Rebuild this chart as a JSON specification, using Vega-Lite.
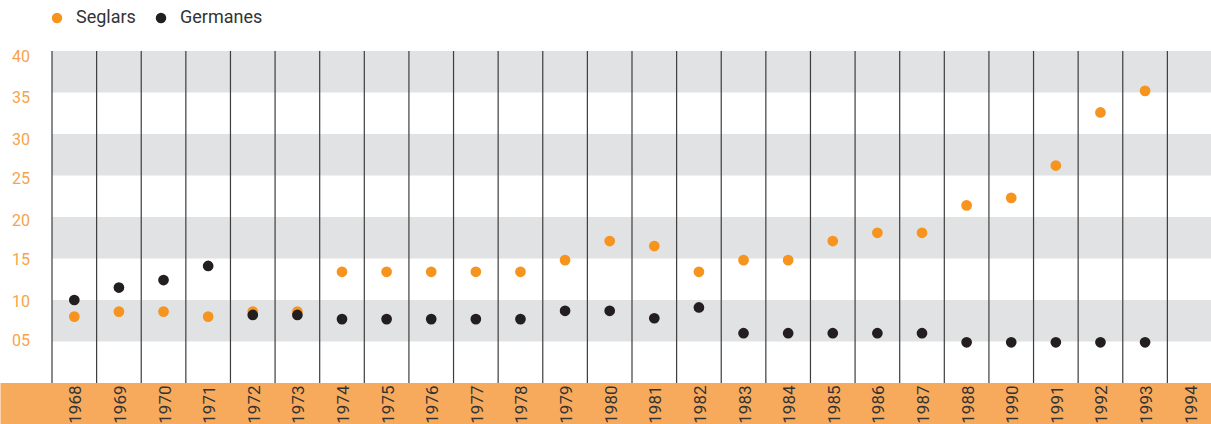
{
  "$schema": "https://vega.github.io/schema/vega-lite/v6.json",
  "width": 1160,
  "height": 373,
  "padding": {"left": 52, "top": 51, "right": 0, "bottom": 0},
  "autosize": {"type": "none"},
  "background": "white",
  "config": {"view": {"stroke": null}},
  "datasets": {
    "points": [
      {"year": "1968", "serie": "Seglars", "value": 8.0},
      {"year": "1969", "serie": "Seglars", "value": 8.6},
      {"year": "1970", "serie": "Seglars", "value": 8.6},
      {"year": "1971", "serie": "Seglars", "value": 8.0},
      {"year": "1972", "serie": "Seglars", "value": 8.6},
      {"year": "1973", "serie": "Seglars", "value": 8.6},
      {"year": "1974", "serie": "Seglars", "value": 13.4},
      {"year": "1975", "serie": "Seglars", "value": 13.4},
      {"year": "1976", "serie": "Seglars", "value": 13.4},
      {"year": "1977", "serie": "Seglars", "value": 13.4},
      {"year": "1978", "serie": "Seglars", "value": 13.4},
      {"year": "1979", "serie": "Seglars", "value": 14.8},
      {"year": "1980", "serie": "Seglars", "value": 17.1},
      {"year": "1981", "serie": "Seglars", "value": 16.5},
      {"year": "1982", "serie": "Seglars", "value": 13.4},
      {"year": "1983", "serie": "Seglars", "value": 14.8},
      {"year": "1984", "serie": "Seglars", "value": 14.8},
      {"year": "1985", "serie": "Seglars", "value": 17.1},
      {"year": "1986", "serie": "Seglars", "value": 18.1},
      {"year": "1987", "serie": "Seglars", "value": 18.1},
      {"year": "1988", "serie": "Seglars", "value": 21.4},
      {"year": "1990", "serie": "Seglars", "value": 22.3},
      {"year": "1991", "serie": "Seglars", "value": 26.2},
      {"year": "1992", "serie": "Seglars", "value": 32.6},
      {"year": "1993", "serie": "Seglars", "value": 35.2},
      {"year": "1968", "serie": "Germanes", "value": 10.0},
      {"year": "1969", "serie": "Germanes", "value": 11.5},
      {"year": "1970", "serie": "Germanes", "value": 12.4},
      {"year": "1971", "serie": "Germanes", "value": 14.1},
      {"year": "1972", "serie": "Germanes", "value": 8.2},
      {"year": "1973", "serie": "Germanes", "value": 8.2},
      {"year": "1974", "serie": "Germanes", "value": 7.7},
      {"year": "1975", "serie": "Germanes", "value": 7.7},
      {"year": "1976", "serie": "Germanes", "value": 7.7},
      {"year": "1977", "serie": "Germanes", "value": 7.7},
      {"year": "1978", "serie": "Germanes", "value": 7.7},
      {"year": "1979", "serie": "Germanes", "value": 8.7},
      {"year": "1980", "serie": "Germanes", "value": 8.7},
      {"year": "1981", "serie": "Germanes", "value": 7.8},
      {"year": "1982", "serie": "Germanes", "value": 9.1},
      {"year": "1983", "serie": "Germanes", "value": 6.0},
      {"year": "1984", "serie": "Germanes", "value": 6.0},
      {"year": "1985", "serie": "Germanes", "value": 6.0},
      {"year": "1986", "serie": "Germanes", "value": 6.0},
      {"year": "1987", "serie": "Germanes", "value": 6.0},
      {"year": "1988", "serie": "Germanes", "value": 4.9},
      {"year": "1990", "serie": "Germanes", "value": 4.9},
      {"year": "1991", "serie": "Germanes", "value": 4.9},
      {"year": "1992", "serie": "Germanes", "value": 4.9},
      {"year": "1993", "serie": "Germanes", "value": 4.9}
    ],
    "years": [
      {"year": "1968"}, {"year": "1969"}, {"year": "1970"}, {"year": "1971"},
      {"year": "1972"}, {"year": "1973"}, {"year": "1974"}, {"year": "1975"},
      {"year": "1976"}, {"year": "1977"}, {"year": "1978"}, {"year": "1979"},
      {"year": "1980"}, {"year": "1981"}, {"year": "1982"}, {"year": "1983"},
      {"year": "1984"}, {"year": "1985"}, {"year": "1986"}, {"year": "1987"},
      {"year": "1988"}, {"year": "1990"}, {"year": "1991"}, {"year": "1992"},
      {"year": "1993"}, {"year": "1994"}
    ],
    "bands": [
      {"lo": 35, "hi": 40},
      {"lo": 25, "hi": 30},
      {"lo": 15, "hi": 20},
      {"lo": 5, "hi": 10}
    ],
    "strip": [{"name": "axis"}]
  },
  "layer": [
    {
      "data": {"name": "bands"},
      "mark": {"type": "rect", "fill": "#E1E2E4"},
      "encoding": {
        "y": {
          "field": "lo",
          "type": "quantitative",
          "scale": {"domain": [-4.94, 40], "nice": false, "zero": false},
          "axis": {
            "orient": "left",
            "values": [-2.47, 5, 10, 15, 20, 25, 30, 35, 40],
            "domain": false,
            "grid": false,
            "ticks": true,
            "tickSize": 52,
            "tickWidth": 41,
            "tickColor": {"condition": {"test": "datum.value < 0", "value": "#F8AA5C"}, "value": "transparent"},
            "labelPadding": -29.5,
            "labelExpr": "datum.value < 0 ? '' : (datum.value < 10 ? '0' + datum.value : '' + datum.value)",
            "labelColor": "#F7A34B",
            "labelFont": "Roboto",
            "labelFontSize": 16,
            "labelBaseline": "middle",
            "labelOffset": {"condition": [{"test": "datum.value >= 30", "value": 5.5}, {"test": "datum.value >= 20", "value": 3.2}, {"test": "datum.value >= 10", "value": 1.2}], "value": -1},
            "title": null,
            "zindex": 1
          }
        },
        "y2": {"field": "hi"}
      }
    },
    {
      "data": {"name": "strip"},
      "mark": {"type": "rect", "fill": "#F8AA5C"},
      "encoding": {
        "y": {"datum": -6},
        "y2": {"datum": 0}
      }
    },
    {
      "data": {"name": "years"},
      "mark": {"type": "rule", "stroke": "#3d3d3d", "strokeWidth": 1.2},
      "encoding": {
        "x": {
          "field": "year",
          "type": "ordinal",
          "bandPosition": 0,
          "scale": {
            "type": "band",
            "paddingInner": 0,
            "paddingOuter": 0,
            "domain": ["1968", "1969", "1970", "1971", "1972", "1973", "1974", "1975", "1976", "1977", "1978", "1979", "1980", "1981", "1982", "1983", "1984", "1985", "1986", "1987", "1988", "1990", "1991", "1992", "1993", "1994"]
          },
          "axis": {
            "orient": "bottom",
            "offset": -41,
            "domain": false,
            "ticks": false,
            "tickSize": 0,
            "grid": false,
            "labelAngle": -90,
            "labelAlign": "right",
            "labelBaseline": "middle",
            "labelPadding": 2,
            "labelOffset": 2,
            "labelFont": "Roboto",
            "labelFontSize": 17,
            "labelColor": "#333333",
            "labelOverlap": false,
            "title": null,
            "zindex": 1
          }
        },
        "y": {"datum": 0},
        "y2": {"datum": 40}
      }
    },
    {
      "data": {"name": "points"},
      "mark": {"type": "circle", "size": 115, "opacity": 1},
      "encoding": {
        "x": {"field": "year", "type": "ordinal"},
        "y": {"field": "value", "type": "quantitative"},
        "color": {
          "field": "serie",
          "type": "nominal",
          "scale": {"domain": ["Seglars", "Germanes"], "range": ["#F7941D", "#231F20"]},
          "legend": {
            "orient": "none",
            "legendX": -4,
            "legendY": -42,
            "direction": "horizontal",
            "title": null,
            "padding": 0,
            "symbolType": "circle",
            "symbolSize": 110,
            "symbolStrokeWidth": 0,
            "labelFont": "Roboto",
            "labelFontSize": 18,
            "labelColor": "#333333",
            "labelOffset": 10,
            "columnPadding": 16
          }
        }
      }
    }
  ]
}
